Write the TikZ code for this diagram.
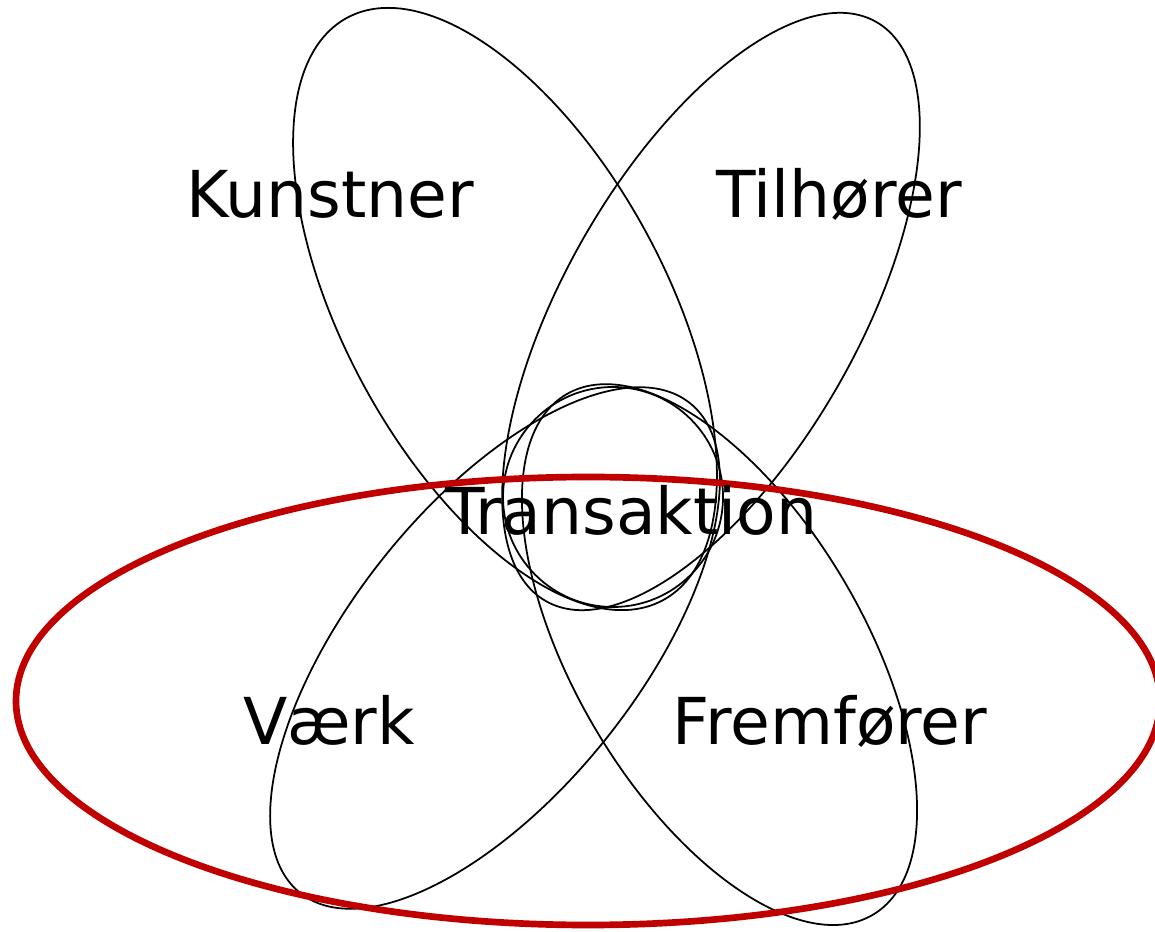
\documentclass[tikz,border=0pt]{standalone}
\usepackage{fontspec}
\setmainfont{DejaVu Sans}
\definecolor{redring}{RGB}{192,0,0}
\begin{document}
\begin{tikzpicture}[
  petal/.style={draw=black, line width=1pt},
  ring/.style={draw=redring, line width=3.8pt},
  lbl/.style={anchor=base, inner sep=0pt, font=\fontsize{36.8}{42}\selectfont}
]
\useasboundingbox (0,0) rectangle (23.1,18.62);
% petals
\draw[petal, rotate around={-61.5:(10.10,12.44)}] (10.10,12.44) ellipse [x radius=6.626, y radius=3.212];
\draw[petal, rotate around={60.3:(14.22,12.39)}] (14.22,12.39) ellipse [x radius=6.668, y radius=2.942];
\draw[petal, rotate around={51.5:(9.90,5.66)}] (9.90,5.66) ellipse [x radius=6.26, y radius=2.868];
\draw[petal, rotate around={-59.5:(14.39,5.528)}] (14.39,5.528) ellipse [x radius=6.04, y radius=2.894];
% center circle
\draw[petal] (12.26,8.68) circle [radius=2.2];
% red ellipse
\draw[ring] (11.76,4.60) ellipse [x radius=11.44, y radius=4.48];
% labels
\node[lbl] (kunstner) at (6.60,14.26) {Kunstner};
\node[lbl] (tilhorer) at (16.78,14.26) {Tilhører};
\node[lbl] (transaktion) at (12.62,7.92) {Transaktion};
\node[lbl] (vaerk) at (6.58,3.72) {Værk};
\node[lbl] (fremforer) at (16.60,3.72) {Fremfører};
\end{tikzpicture}
\end{document}
